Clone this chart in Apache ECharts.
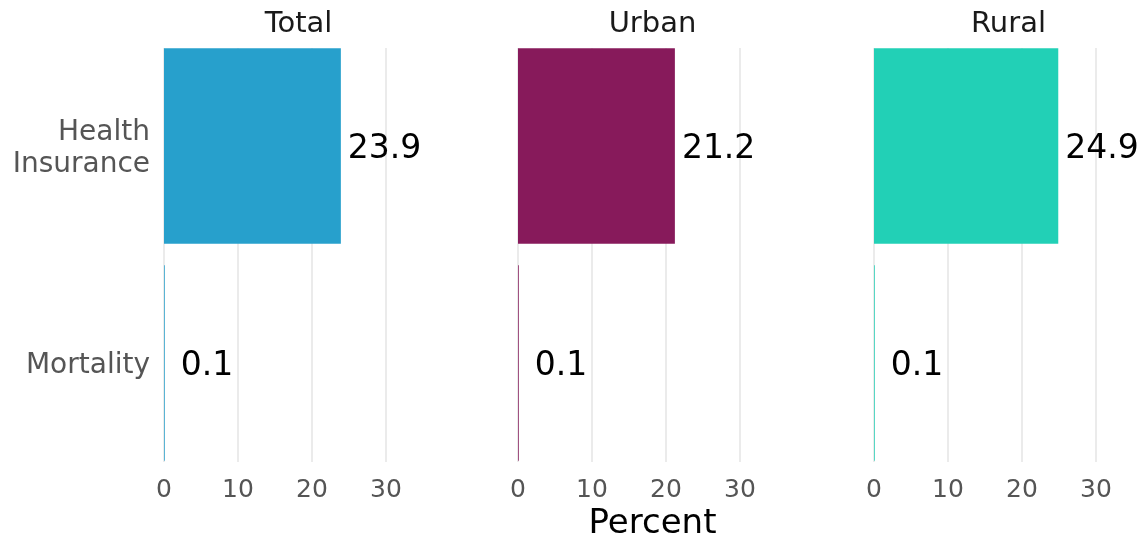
<!DOCTYPE html>
<html><head><meta charset="utf-8">
<script src="https://cdn.jsdelivr.net/npm/echarts@6/dist/echarts.min.js"></script>
<style>html,body{margin:0;padding:0;background:#fff}#c{width:1146px;height:544px}</style>
</head><body><div id="c"></div>
<script>
const categories = ['Health\nInsurance', 'Mortality'];
const facets = ['Total', 'Urban', 'Rural'];
const totalValues = [23.9, 0.1];
const urbanValues = [21.2, 0.1];
const ruralValues = [24.9, 0.1];
const xTicks = [0, 10, 20, 30];
const xTitle = 'Percent';
const colors = ['#27a0cc', '#871a5b', '#22d0b6'];

const valuesByFacet = [totalValues, urbanValues, ruralValues];
const FONT = 'DejaVu Sans';
const lefts = [164, 518, 874];
const scale = 7.4, xMax = 35, width = scale * xMax;

const grid = [], xAxis = [], yAxis = [], series = [], title = [];
facets.forEach((f, i) => {
  grid.push({left: lefts[i], width: width, top: 37.5, height: 434});
  grid.push({left: lefts[i], width: width, top: 48, height: 414});
  const a = 2 * i, b = 2 * i + 1;
  xAxis.push({gridIndex: a, type: 'value', min: 0, max: xMax, interval: 10,
    axisLine: {show: false}, axisTick: {show: false}, axisLabel: {show: false}, splitLine: {show: false}});
  xAxis.push({gridIndex: b, type: 'value', min: 0, max: xMax, interval: 10,
    axisLine: {show: false}, axisTick: {show: false},
    axisLabel: {show: true, showMaxLabel: false, hideOverlap: false, color: '#555', fontFamily: FONT, fontSize: 25, margin: 16,
      formatter: v => xTicks.includes(v) ? String(v) : ''},
    splitLine: {show: true, showMaxLine: false, lineStyle: {color: '#ebebeb', width: 2}}});
  yAxis.push({gridIndex: a, type: 'category', inverse: true, data: categories,
    axisLine: {show: false}, axisTick: {show: false}, splitLine: {show: false},
    axisLabel: {show: i === 0, color: '#555', fontFamily: FONT, fontSize: 28, lineHeight: 32, margin: 14, align: 'right',
      formatter: v => '{c|' + v.split('\n').join('}\n{c|') + '}',
      rich: {c: {color: '#555', fontFamily: FONT, fontSize: 28, lineHeight: 32, align: 'right', padding: [6, 0, 0, 0]}}}});
  yAxis.push({gridIndex: b, type: 'value', show: false, min: 0, max: 1});
  series.push({type: 'bar', xAxisIndex: a, yAxisIndex: a, barWidth: '90%',
    itemStyle: {color: colors[i]},
    data: valuesByFacet[i].map(v => ({value: v, label: {distance: v < 1 ? 16 : 7}})),
    label: {show: true, position: 'right', color: '#000', fontFamily: FONT, fontSize: 33, offset: [0, 3],
      formatter: p => p.value.toFixed(1)}});
  series.push({type: 'scatter', xAxisIndex: b, yAxisIndex: b, data: []});
  title.push({text: f, left: lefts[i] + width / 2, top: 5, textAlign: 'center',
    textStyle: {color: '#1a1a1a', fontFamily: FONT, fontSize: 29, fontWeight: 'normal'}});
});
title.push({text: xTitle, left: lefts[1] + width / 2, top: 502, textAlign: 'center',
  textStyle: {color: '#000', fontFamily: FONT, fontSize: 34, fontWeight: 'normal'}});

const chart = echarts.init(document.getElementById('c'), null, {renderer: 'canvas'});
chart.setOption({animation: false, backgroundColor: '#fff', title, grid, xAxis, yAxis, series});
</script></body></html>
